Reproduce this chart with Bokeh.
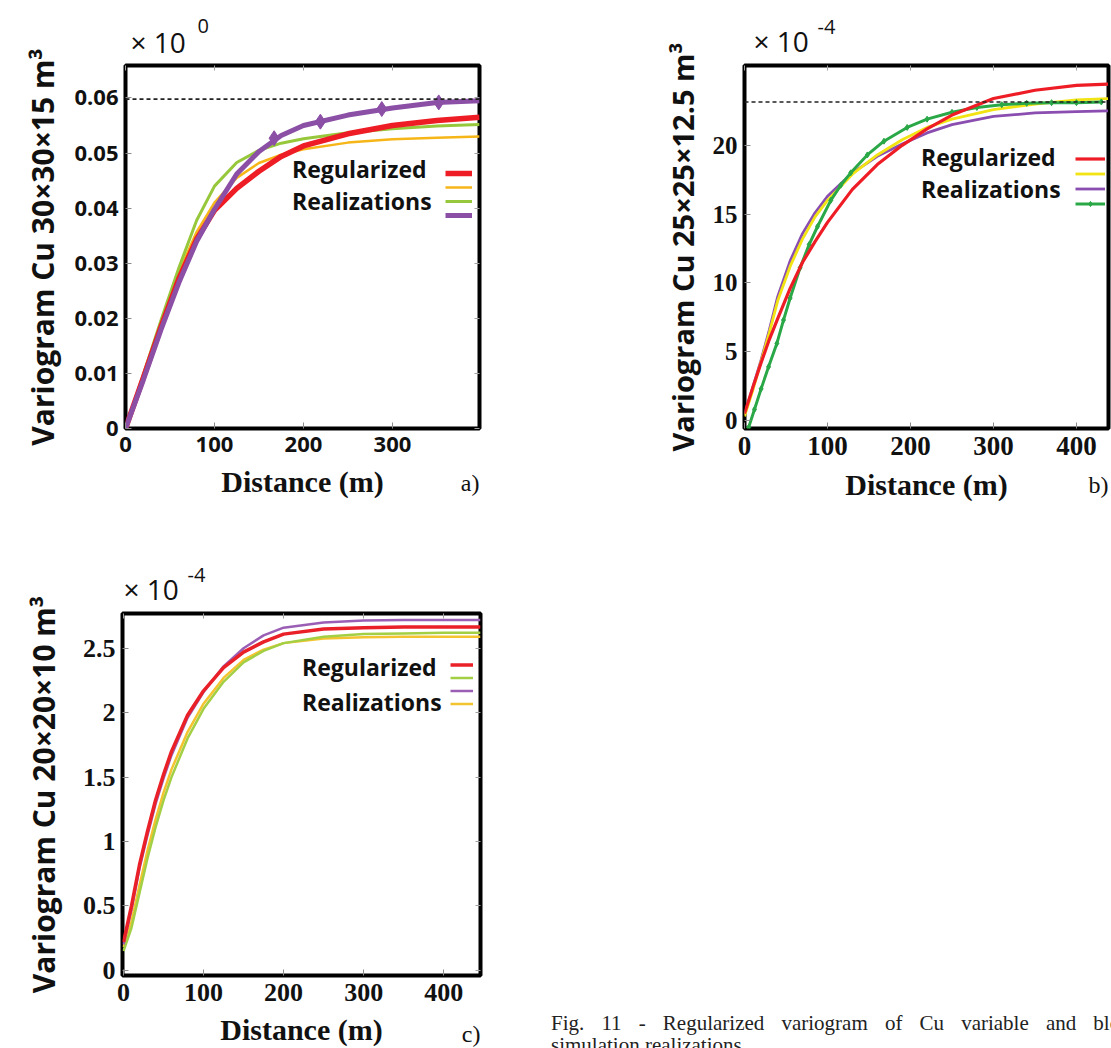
from bokeh.plotting import figure
from bokeh.models import Range1d, FixedTicker, Legend, LegendItem, Span, Title, Div, LinearAxis
from bokeh.layouts import column, row
from bokeh.embed import file_html
from bokeh.resources import INLINE

# ---------------- data ----------------
# Panel a (30x30x15 m3), variogram x 10^0
dist_a = [0, 20, 40, 60, 80, 100, 125, 150, 175, 200, 250, 300, 350, 398]
reg_a = [0, 0.0092, 0.0185, 0.0272, 0.0344, 0.0396, 0.0436, 0.0467, 0.0494, 0.0513, 0.0535, 0.0550, 0.0559, 0.0565]
yel_a = [0, 0.0096, 0.0193, 0.0285, 0.0357, 0.0410, 0.0455, 0.0482, 0.0497, 0.0507, 0.0519, 0.0525, 0.0528, 0.0530]
grn_a = [0, 0.0098, 0.0197, 0.0292, 0.0378, 0.0440, 0.0483, 0.0505, 0.0518, 0.0526, 0.0537, 0.0544, 0.0549, 0.0552]
pur_a = [0, 0.0088, 0.0180, 0.0265, 0.0340, 0.0398, 0.0462, 0.0503, 0.0532, 0.0550, 0.0569, 0.0582, 0.0592, 0.0595]
pur_a_mk_d = [167, 219, 288, 352]
pur_a_mk_v = [0.0527, 0.0557, 0.0580, 0.0592]
sill_a = 0.0598

# Panel b (25x25x12.5 m3), variogram x 10^-4
dist_b = [0, 10, 20, 30, 40, 55, 70, 85, 100, 130, 160, 190, 220, 250, 300, 350, 400, 438]
reg_b = [0.5, 2.4, 4.2, 5.9, 7.4, 9.6, 11.5, 13.0, 14.4, 16.8, 18.6, 20.0, 21.2, 22.2, 23.4, 24.0, 24.35, 24.45]
yel_b = [0.3, 2.2, 4.3, 6.4, 8.7, 11.2, 13.2, 14.8, 16.0, 17.9, 19.3, 20.4, 21.3, 21.9, 22.6, 23.0, 23.3, 23.4]
pur_b = [0.4, 2.4, 4.4, 6.6, 9.0, 11.6, 13.6, 15.1, 16.3, 18.0, 19.2, 20.1, 20.9, 21.5, 22.1, 22.35, 22.45, 22.5]
dist_gb = [5, 12, 20, 29, 39, 47, 55, 67, 78, 88, 104, 116, 128, 148, 168, 196, 220, 250, 280, 310, 340, 370, 400, 430]
grn_b = [-0.5, 0.8, 2.3, 3.9, 5.6, 7.3, 8.9, 11.1, 12.8, 14.1, 16.0, 17.1, 18.0, 19.3, 20.3, 21.3, 21.9, 22.4,
         22.75, 22.95, 23.05, 23.1, 23.1, 23.15]
sill_b = 23.15

# Panel c (20x20x10 m3), variogram x 10^-4
dist_c = [0, 10, 20, 30, 40, 50, 60, 80, 100, 125, 150, 175, 200, 250, 300, 350, 400, 446]
reg_c = [0.22, 0.50, 0.82, 1.08, 1.32, 1.52, 1.70, 1.98, 2.17, 2.35, 2.47, 2.55, 2.61, 2.65, 2.66, 2.665, 2.665, 2.665]
grn_c = [0.15, 0.33, 0.60, 0.87, 1.11, 1.32, 1.50, 1.80, 2.03, 2.24, 2.39, 2.48, 2.54, 2.59, 2.61, 2.615, 2.62, 2.62]
pur_c = [0.20, 0.47, 0.79, 1.05, 1.29, 1.49, 1.67, 1.96, 2.16, 2.36, 2.50, 2.60, 2.66, 2.70, 2.715, 2.72, 2.72, 2.72]
yel_c = [0.18, 0.38, 0.66, 0.93, 1.17, 1.38, 1.56, 1.85, 2.07, 2.27, 2.41, 2.49, 2.54, 2.575, 2.585, 2.59, 2.59, 2.59]

x_ticks_a = [0, 100, 200, 300]
y_ticks_a = [0, 0.01, 0.02, 0.03, 0.04, 0.05, 0.06]
y_labels_a = ["0", "0.01", "0.02", "0.03", "0.04", "0.05", "0.06"]
x_ticks_bc = [0, 100, 200, 300, 400]
y_ticks_b = [0, 5, 10, 15, 20]
y_ticks_c = [0, 0.5, 1, 1.5, 2, 2.5]
y_labels_c = ["0", "0.5", "1", "1.5", "2", "2.5"]

legend_words = ["Regularized", "Realizations"]
caption_line1 = ["Fig.", "11", "-", "Regularized", "variogram", "of", "Cu", "variable", "and", "block"]
caption_line2 = "simulation realizations."

SANS = "Open Sans"
SERIF = "Liberation Serif"


def base_fig(width, height, frame, xr, yr):
    fl, ft, fr, fb = frame
    p = figure(width=width, height=height, x_range=Range1d(*xr), y_range=Range1d(*yr),
               output_backend="svg", toolbar_location=None,
               min_border_left=fl, min_border_top=ft,
               min_border_right=width - fr, min_border_bottom=height - fb,
               background_fill_color="white", border_fill_color="white")
    p.grid.visible = False
    p.outline_line_color = "black"
    p.outline_line_width = 4
    return p


def tick_only_axis(p, ticks, side):
    ax = LinearAxis(ticker=FixedTicker(ticks=ticks), axis_line_color=None, major_tick_in=5,
                    major_tick_out=0, major_tick_line_color="#a0a0a0", minor_tick_line_color=None,
                    major_label_text_color=None, major_label_text_font_size="1px",
                    major_label_standoff=0)
    p.add_layout(ax, side)


def style_axes(p, xticks, yticks, yoverrides, tick_font, xsize, ysize, xlabel, ylabel, ylabel_size,
               xstand=8, ystand=7, xlab_stand=10, ylab_stand=8, right=True):
    p.xaxis.ticker = FixedTicker(ticks=xticks)
    p.yaxis.ticker = FixedTicker(ticks=yticks)
    if yoverrides:
        p.yaxis.major_label_overrides = yoverrides
    for ax in list(p.xaxis) + list(p.yaxis):
        ax.axis_line_color = None
        ax.major_tick_in = 6
        ax.major_tick_out = 0
        ax.major_tick_line_color = "#8c8c8c"
        ax.minor_tick_line_color = None
        ax.major_label_text_font = tick_font
        ax.major_label_text_font_style = "bold"
        ax.major_label_text_color = "#111111"
    p.xaxis.major_label_text_font_size = xsize
    p.yaxis.major_label_text_font_size = ysize
    p.xaxis.major_label_standoff = xstand
    p.yaxis.major_label_standoff = ystand
    p.xaxis.axis_label = xlabel
    p.xaxis.axis_label_text_font = SERIF
    p.xaxis.axis_label_text_font_style = "bold"
    p.xaxis.axis_label_text_font_size = "30px"
    p.xaxis.axis_label_text_color = "#111111"
    p.xaxis.axis_label_standoff = xlab_stand
    p.yaxis.axis_label = ylabel
    p.yaxis.axis_label_text_font = SANS
    p.yaxis.axis_label_text_font_style = "bold"
    p.yaxis.axis_label_text_font_size = ylabel_size
    p.yaxis.axis_label_text_color = "#111111"
    p.yaxis.axis_label_standoff = ylab_stand
    tick_only_axis(p, xticks, "above")
    if right:
        tick_only_axis(p, yticks, "right")


def exponent_titles(p, power, offset, standoff, sup_offset, sup_standoff):
    p.add_layout(Title(text="× 10", align="left", vertical_align="bottom", offset=offset, standoff=standoff,
                       text_font=SANS, text_font_size="28px", text_font_style="normal",
                       text_color="#111111"), "above")
    p.add_layout(Title(text=power, align="left", vertical_align="bottom", offset=sup_offset,
                       standoff=sup_standoff, text_font=SANS, text_font_size="20px",
                       text_font_style="normal", text_color="#111111"), "above")


def letter_title(p, text, standoff):
    p.add_layout(Title(text=text, align="right", vertical_align="top", standoff=standoff,
                       text_font=SERIF, text_font_size="24px", text_font_style="normal",
                       text_color="#111111"), "below")


def sample_legend(p, renderers, vx, vy, gw, gh, sp):
    items = [LegendItem(label="", renderers=r) for r in renderers]
    leg = Legend(items=items, location=(vx, vy), orientation="vertical", glyph_width=gw, glyph_height=gh,
                 spacing=sp, padding=0, margin=0, label_width=0, label_height=gh, label_standoff=0,
                 label_text_font_size="9px", border_line_color=None, background_fill_alpha=0)
    p.add_layout(leg)


def text_legend(p, renderers, vx, vys):
    # one single-row legend per word, so each can sit at its own height
    for w, r, vy in zip(legend_words, renderers, vys):
        leg = Legend(items=[LegendItem(label=w, renderers=r)], location=(vx, vy), orientation="vertical",
                     glyph_width=0, glyph_height=20, spacing=0, padding=0, margin=0, label_height=20,
                     label_standoff=0, label_text_font=SANS, label_text_font_style="bold",
                     label_text_font_size="23px", label_text_color="#111111",
                     border_line_color=None, background_fill_alpha=0)
        p.add_layout(leg)


# ---------------- panel a ----------------
pa = base_fig(560, 545, (125, 65, 479, 428), (0, 397.8), (0, 0.0659))
style_axes(pa, x_ticks_a, y_ticks_a, dict(zip(y_ticks_a, y_labels_a)), SANS, "22px", "22px",
           "Distance (m)", "Variogram Cu 30×30×15 m³", "30px")
pa.add_layout(Span(location=sill_a, dimension="width", line_color="#222222", line_width=1.6, line_dash="4 3"))
ra_y = pa.line(dist_a, yel_a, line_color="#f6b618", line_width=2.5)
ra_g = pa.line(dist_a, grn_a, line_color="#97c83c", line_width=3)
ra_r = pa.line(dist_a, reg_a, line_color="#ee1d25", line_width=5.5)
ra_p = pa.line(dist_a, pur_a, line_color="#8b4fa6", line_width=5)
ra_pm = pa.scatter(pur_a_mk_d, pur_a_mk_v, marker="diamond", size=15, color="#8b4fa6")
sample_legend(pa, [[ra_r], [ra_y], [ra_g], [ra_p, ra_pm]], 320, 207, 27, 12, 2)
text_legend(pa, [[ra_r], [ra_y]], 167, [243, 211])
exponent_titles(pa, "0", 5, 10, 72, -35)
letter_title(pa, "a)", -62)

# ---------------- panel b ----------------
pb = base_fig(551, 545, (184, 65, 548, 428), (0, 438.6), (-0.58, 25.8))
style_axes(pb, x_ticks_bc, y_ticks_b, None, SERIF, "27px", "25px",
           "Distance (m)", "Variogram Cu 25×25×12.5 m³", "29px", right=False)
pb.add_layout(Span(location=sill_b, dimension="width", line_color="#222222", line_width=1.6, line_dash="4 3"))
rb_p = pb.line(dist_b, pur_b, line_color="#8a4db0", line_width=2.8)
rb_y = pb.line(dist_b, yel_b, line_color="#f2e313", line_width=2.8)
rb_g = pb.line(dist_gb, grn_b, line_color="#2aa847", line_width=3)
rb_gm = pb.scatter(dist_gb, grn_b, marker="diamond", size=6, color="#2aa847")
rb_r = pb.line(dist_b, reg_b, line_color="#ee1d25", line_width=3.2)
sample_legend(pb, [[rb_r], [rb_y], [rb_p], [rb_g, rb_gm]], 331, 218, 30, 13, 2)
text_legend(pb, [[rb_r], [rb_y]], 177, [255, 223])
exponent_titles(pb, "-4", 9, 12, 73, -41)
letter_title(pb, "b)", -64)

# ---------------- panel c ----------------
pc = base_fig(540, 503, (122, 68, 480, 430), (-1.25, 446), (-0.04, 2.77))
style_axes(pc, x_ticks_bc, y_ticks_c, dict(zip(y_ticks_c, y_labels_c)), SERIF, "26px", "26px",
           "Distance (m)", "Variogram Cu 20×20×10 m³", "30px", xstand=8, xlab_stand=9, ylab_stand=16)
rc_y = pc.line(dist_c, yel_c, line_color="#f4c430", line_width=2.5)
rc_g = pc.line(dist_c, grn_c, line_color="#a3cf45", line_width=2.5)
rc_p = pc.line(dist_c, pur_c, line_color="#9a5fb5", line_width=2.5)
rc_r = pc.line(dist_c, reg_c, line_color="#ea2029", line_width=3.5)
sample_legend(pc, [[rc_r], [rc_g], [rc_p], [rc_y]], 328, 266, 23, 11, 2)
text_legend(pc, [[rc_r], [rc_y]], 180, [292, 257])
exponent_titles(pc, "-4", 1, 12, 65, -41)
letter_title(pc, "c)", -56)

# ---------------- caption ----------------
line1 = " ".join(caption_line1)
cap_html = (
    '<div style="position:relative;width:571px;height:503px;overflow:hidden;">'
    '<div style="position:absolute;left:6px;top:463px;width:589px;white-space:nowrap;'
    'font-family:\'Liberation Serif\';font-size:21px;line-height:21px;color:#222;'
    'text-align:justify;text-align-last:justify;">' + line1 + '</div>'
    '<div style="position:absolute;left:6px;top:485px;'
    'font-family:\'Liberation Serif\';font-size:21px;line-height:21px;color:#222;">'
    + caption_line2 + '</div></div>'
)
cap = Div(text=cap_html, width=571, height=503)

layout = column(row(pa, pb), row(pc, cap))
open("out.html", "w").write(file_html(layout, INLINE))
